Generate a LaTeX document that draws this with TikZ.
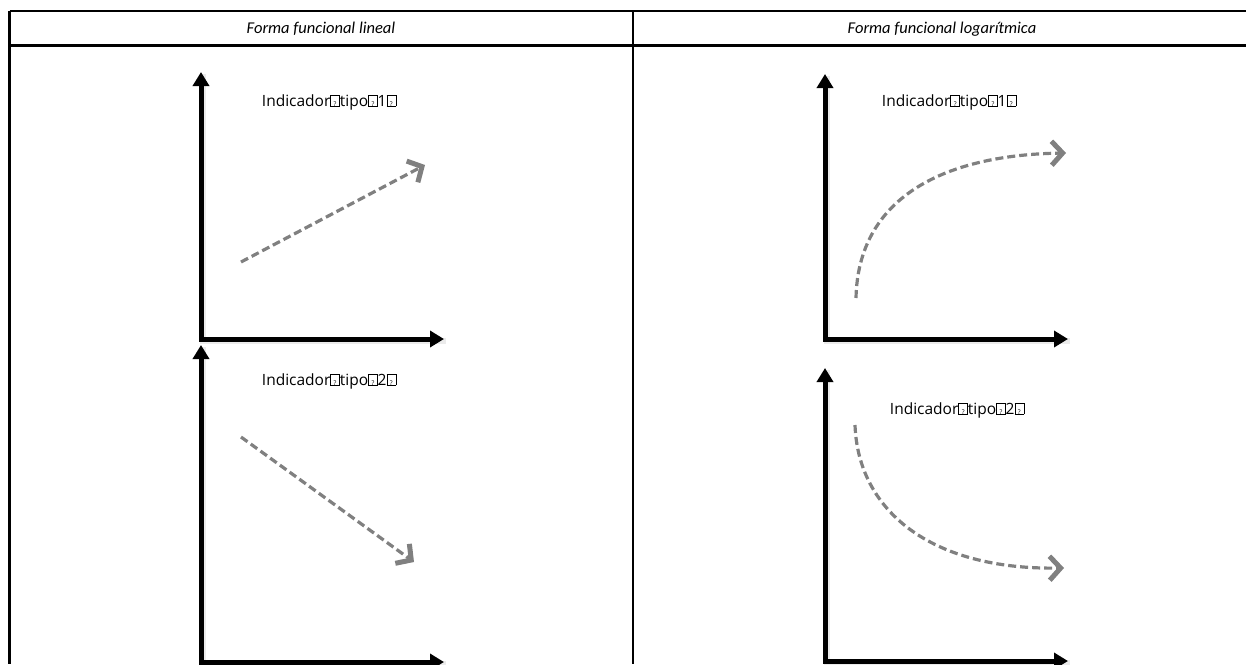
\documentclass[tikz,border=0pt]{standalone}
\usepackage{fontspec}
\setmainfont{Carlito}
\newfontfamily\labfont{Open Sans}
\usetikzlibrary{arrows.meta}
\newcommand\qbx{{\fboxsep=0pt\fboxrule=0.5pt\fbox{\raisebox{0pt}[0.68em][0pt]{\makebox[0.55em]{\fontsize{6.5}{6.5}\selectfont ?}}}}}
\begin{document}
\begin{tikzpicture}[x=1pt,y=-1pt,
  grid/.style={line width=2.5pt,black},
  axis/.style={line width=5pt,line join=miter,{Triangle[length=14pt,width=16pt]}-{Triangle[length=14pt,width=16pt]}},
  axshadow/.style={line width=6pt,black,opacity=0.08},
  trend/.style={line width=3.2pt,color=black!50,dash pattern=on 8pt off 4pt,-{Straight Barb[length=11pt,width=24pt,line width=5pt]}},
  head/.style={font=\fontsize{16.5}{18}\selectfont\itshape},
  lab/.style={font=\labfont\fontsize{15.5}{17}\selectfont}]
\useasboundingbox (0,0) rectangle (1246,664);
% table
\coordinate (tl) at (9.5,11);
\coordinate (tr) at (1246,11);
\coordinate (hl) at (9.5,45.5);
\coordinate (hr) at (1246,45.5);
\coordinate (bl) at (9.5,664);
\coordinate (mt) at (633,11);
\coordinate (mb) at (633,664);
\draw[grid] (tl) -- (tr);
\draw[grid] (hl) -- (hr);
\draw[grid] (tl) -- (bl);
\draw[grid] (mt) -- (mb);
\node[head] (h1) at (321,29) {Forma funcional lineal};
\node[head] (h2) at (942,29) {Forma funcional logarítmica};
% axes coordinates
\coordinate (ay) at (201,72);  \coordinate (ac) at (201,339); \coordinate (ax) at (444,339);
\coordinate (by) at (201,345); \coordinate (bc) at (201,662); \coordinate (bx) at (444,662);
\coordinate (cy) at (825,74);  \coordinate (cc) at (825,339); \coordinate (cx) at (1068,339);
\coordinate (dy) at (825,368); \coordinate (dc) at (825,661); \coordinate (dx) at (1068,661);
\foreach \p in {a,b,c,d}{
  \draw[axshadow] ([shift={(2,2)}]\p y) -- ([shift={(2,2)}]\p c) -- ([shift={(2,2)}]\p x);
  \draw[axis] (\p y) -- (\p c) -- (\p x);
}
% labels
\node[lab] (la) at (329,102) {Indicador\qbx tipo\qbx 1\qbx};
\node[lab] (lb) at (329,381) {Indicador\qbx tipo\qbx 2\qbx};
\node[lab] (lc) at (949,102) {Indicador\qbx tipo\qbx 1\qbx};
\node[lab] (ld) at (957,410) {Indicador\qbx tipo\qbx 2\qbx};
% trends
\coordinate (a0) at (241,262); \coordinate (a1) at (425,165);
\coordinate (b0) at (241,437); \coordinate (b1) at (414,562);
\coordinate (c0) at (856,298); \coordinate (c1) at (1066,153);
\coordinate (d0) at (855,425); \coordinate (d1) at (1064,568);
\draw[trend] (a0) -- (a1);
\draw[trend] (b0) -- (b1);
\draw[trend] (c0) .. controls (858,200) and (940,155) .. (c1);
\draw[trend] (d0) .. controls (858,510) and (930,570) .. (d1);
\end{tikzpicture}
\end{document}
